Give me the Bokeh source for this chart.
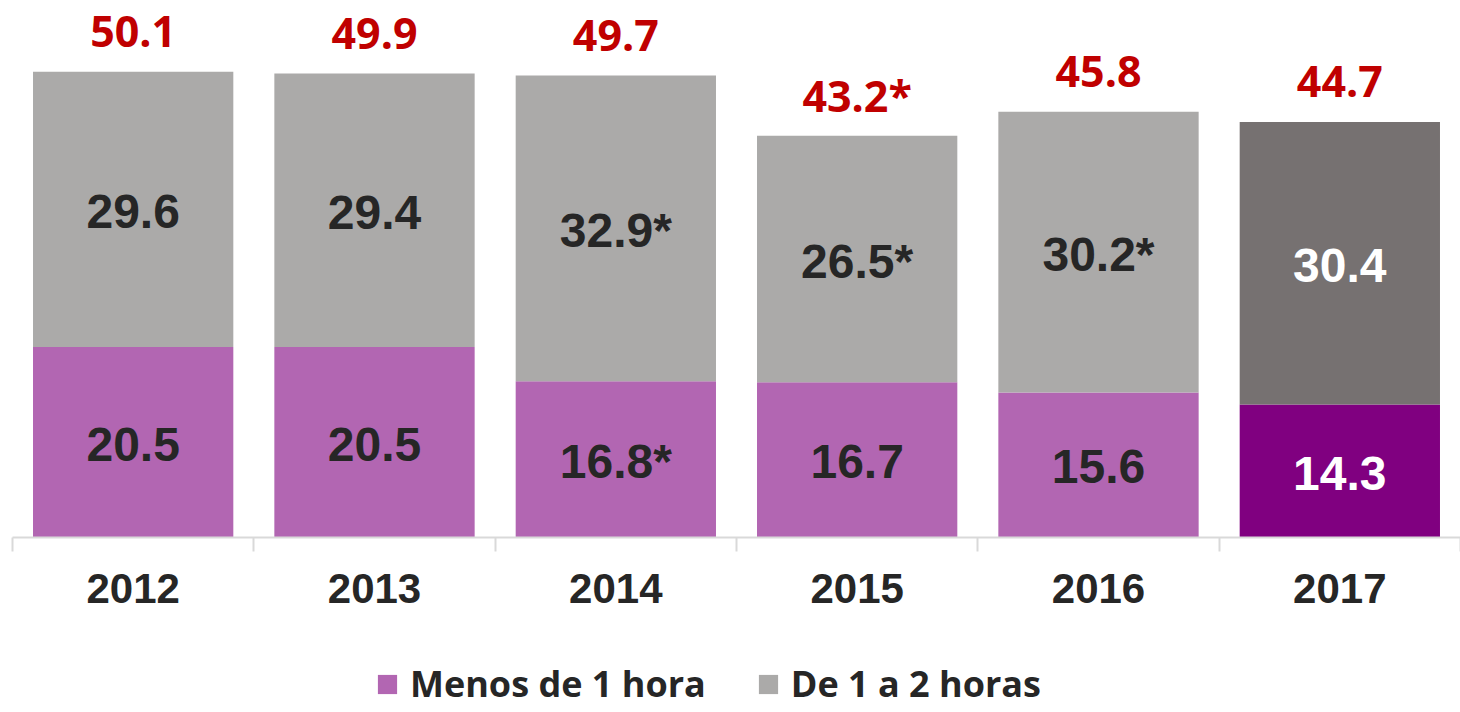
from bokeh.plotting import figure
from bokeh.layouts import column
from bokeh.models import (ColumnDataSource, FactorRange, Range1d, LinearAxis, CategoricalAxis,
                          FixedTicker, Legend, LegendItem)
from bokeh.core.properties import value
from bokeh.embed import file_html
from bokeh.resources import INLINE

years = ["2012", "2013", "2014", "2015", "2016", "2017"]
menos = [20.5, 20.5, 16.8, 16.7, 15.6, 14.3]
de1a2 = [29.6, 29.4, 32.9, 26.5, 30.2, 30.4]
totals = [50.1, 49.9, 49.7, 43.2, 45.8, 44.7]
menos_labels = ["20.5", "20.5", "16.8*", "16.7", "15.6", "14.3"]
de1a2_labels = ["29.6", "29.4", "32.9*", "26.5*", "30.2*", "30.4"]
total_labels = ["50.1", "49.9", "49.7", "43.2*", "45.8", "44.7"]
series_names = ["Menos de 1 hora", "De 1 a 2 horas"]

menos_colors = ["#B266B2"] * 5 + ["#800080"]
de1a2_colors = ["#ABAAA9"] * 5 + ["#767171"]
inner_text_colors = ["#262626"] * 5 + ["#FFFFFF"]

stack_top = [a + b for a, b in zip(menos, de1a2)]
src = ColumnDataSource(dict(
    years=years, menos=menos, de1a2=de1a2, top=stack_top, totals=totals,
    menos_mid=[m / 2 for m in menos],
    de_mid=[m + d / 2 for m, d in zip(menos, de1a2)],
    menos_labels=menos_labels, de1a2_labels=de1a2_labels, total_labels=total_labels,
    c1=menos_colors, c2=de1a2_colors, tc=inner_text_colors,
))

p = figure(x_range=FactorRange(*years, range_padding=0), y_range=Range1d(0, 56.9),
           frame_width=1448, frame_height=529, output_backend="svg", toolbar_location=None,
           x_axis_location=None, y_axis_location=None,
           min_border_left=12, min_border_right=0, min_border_top=8, min_border_bottom=12)
p.outline_line_color = None
p.xgrid.visible = False
p.ygrid.visible = False

r1 = p.vbar(x="years", bottom=0, top="menos", width=0.83, source=src,
            fill_color="c1", line_color=None)
r2 = p.vbar(x="years", bottom="menos", top="top", width=0.83, source=src,
            fill_color="c2", line_color=None)

inner_font = value("Liberation Sans")
p.text(x="years", y="menos_mid", text="menos_labels", source=src, text_align="center",
       text_baseline="middle", text_font=inner_font, text_font_style="bold",
       text_font_size="48px", text_color="tc", y_offset=2)
p.text(x="years", y="de_mid", text="de1a2_labels", source=src, text_align="center",
       text_baseline="middle", text_font=inner_font, text_font_style="bold",
       text_font_size="48px", text_color="tc", y_offset=2)
p.text(x="years", y="totals", text="total_labels", source=src, text_align="center",
       text_baseline="middle", text_font=value("Open Sans"), text_font_style="bold",
       text_font_size="43px", text_color="#C00000", y_offset=-40)

# ticks on the boundaries between categories (synthetic coordinates of the factor range)
bax = LinearAxis(ticker=FixedTicker(ticks=list(range(len(years) + 1))),
                 axis_line_color="#D9D9D9", axis_line_width=2,
                 major_tick_line_color="#D9D9D9", major_tick_line_width=2,
                 major_tick_out=14, major_tick_in=0,
                 minor_tick_line_color=None, major_label_text_color=None,
                 major_label_text_font_size="1px", major_label_standoff=0)
p.add_layout(bax, "below")

cax = CategoricalAxis(axis_line_color=None, major_tick_line_color=None,
                      minor_tick_line_color=None,
                      major_label_text_font="Liberation Sans", major_label_text_font_style="bold",
                      major_label_text_font_size="42px", major_label_text_color="#262626",
                      major_label_standoff=16)
p.add_layout(cax, "below")

# legend strip below the chart
p2 = figure(x_range=FactorRange(*years, range_padding=0), y_range=Range1d(100, 101),
            width=1460, height=95, output_backend="svg", toolbar_location=None,
            x_axis_location=None, y_axis_location=None,
            min_border_left=0, min_border_right=0, min_border_top=0, min_border_bottom=0)
p2.outline_line_color = None
p2.xgrid.visible = False
p2.ygrid.visible = False
l1 = p2.vbar(x="years", bottom=0, top="menos", width=0.83, source=src,
             fill_color="c1", line_color=None)
l2 = p2.vbar(x="years", bottom="menos", top="top", width=0.83, source=src,
             fill_color="c2", line_color=None)

legend = Legend(items=[LegendItem(label=series_names[0], renderers=[l1], index=0),
                       LegendItem(label=series_names[1], renderers=[l2], index=0)],
                orientation="horizontal", location=(363, -8),
                border_line_color=None, background_fill_alpha=0,
                label_text_font="Open Sans", label_text_font_style="bold",
                label_text_font_size="36px", label_text_color="#262626",
                glyph_width=24, glyph_height=24, spacing=50, label_standoff=11,
                padding=0, margin=0)
p2.add_layout(legend, "center")

open("out.html", "w").write(file_html(column(p, p2, spacing=0), INLINE))
